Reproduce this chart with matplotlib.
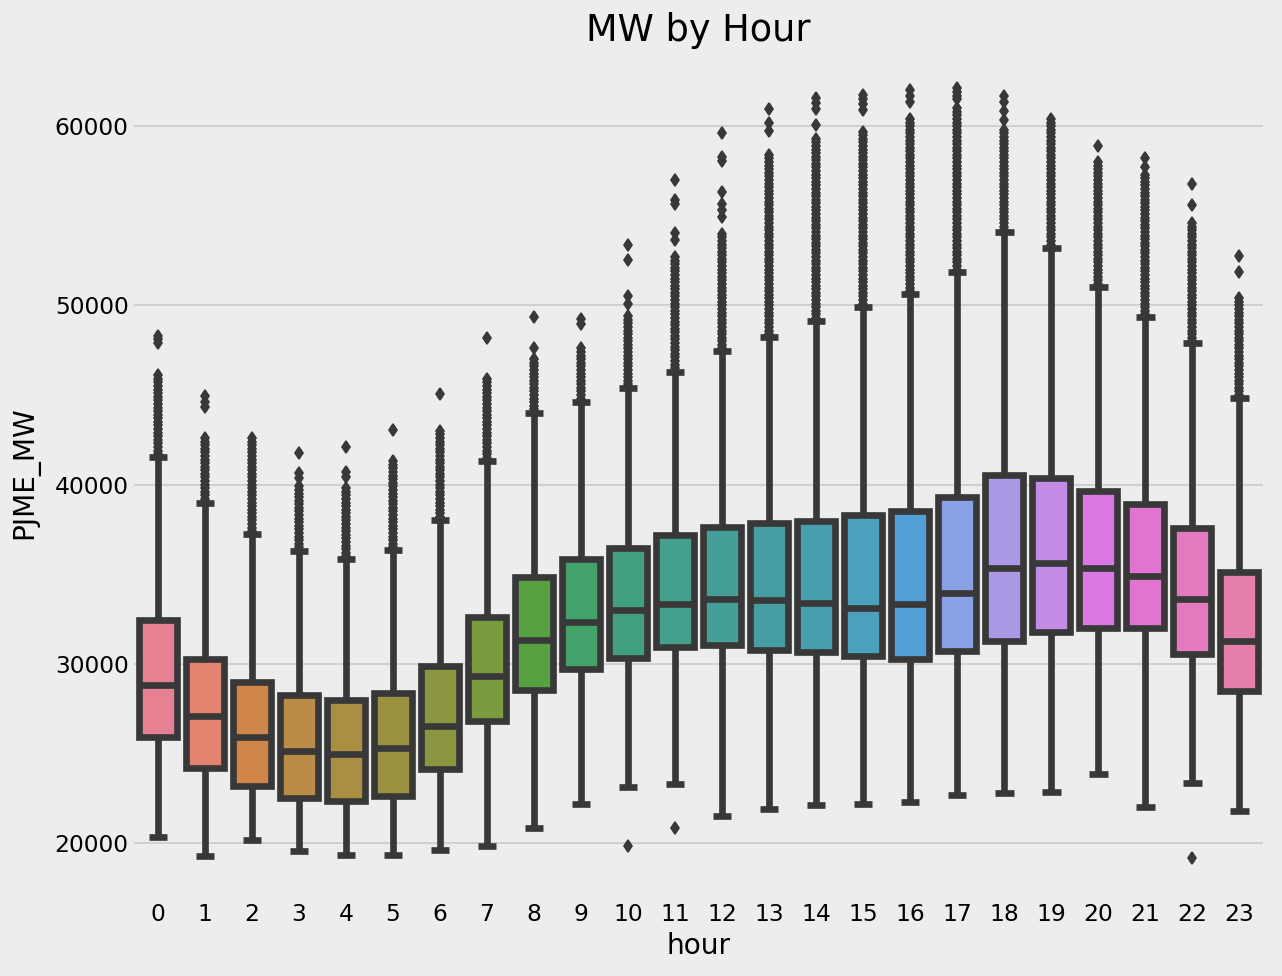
import seaborn as sns
from matplotlib import pyplot as plt

plt.style.use('fivethirtyeight')
bg = '#ededed'
plt.rcParams['figure.facecolor'] = bg
plt.rcParams['axes.facecolor'] = bg
plt.rcParams['axes.edgecolor'] = bg
plt.rcParams['savefig.facecolor'] = bg
plt.rcParams['savefig.edgecolor'] = bg

hours = list(range(24))

# box stats (MW)
q1 = [25930, 24170, 23180, 22520, 22360, 22620, 24110, 26790, 28560, 29700, 30350, 30920,
      31040, 30780, 30640, 30410, 30270, 30700, 31270, 31780, 31980, 31980, 30550, 28500]
med = [28820, 27070, 25890, 25150, 24940, 25310, 26510, 29330, 31350, 32350, 32980, 33350,
       33600, 33550, 33400, 33120, 33320, 33970, 35340, 35630, 35340, 34910, 33630, 31270]
q3 = [32440, 30270, 28990, 28240, 27960, 28370, 29900, 32630, 34830, 35830, 36480, 37170,
      37620, 37880, 37950, 38310, 38540, 39300, 40530, 40390, 39650, 38910, 37590, 35110]
whis_lo = [20310, 19260, 20150, 19530, 19320, 19320, 19610, 19860, 20860, 22200, 23140, 23280,
           21520, 21920, 22140, 22200, 22290, 22660, 22770, 22830, 23850, 22000, 23340, 21800]
whis_hi = [41530, 38990, 37250, 36300, 35850, 36340, 38020, 41330, 44010, 44610, 45400, 46290,
           47460, 48230, 49140, 49940, 50650, 51850, 54070, 53220, 51020, 49340, 47880, 44840]

# outliers, in thousands of MW
outliers_k = [
    [41.7, 41.9, 42.1, 42.3, 42.5, 42.7, 42.9, 43.1, 43.3, 43.5, 43.7, 43.9, 44.1, 44.3, 44.5, 44.7,
     44.9, 45.1, 45.3, 45.5, 45.7, 45.9, 46.1, 47.9, 48.1, 48.3],
    [39.2, 39.4, 39.6, 39.8, 40.0, 40.2, 40.4, 40.6, 40.8, 41.0, 41.2, 41.4, 41.6, 41.8, 42.0, 42.2,
     42.4, 42.6, 44.35, 44.6, 44.95],
    [37.4, 37.6, 37.8, 38.0, 38.2, 38.4, 38.6, 38.8, 39.0, 39.2, 39.4, 39.6, 39.8, 40.0, 40.2, 40.4,
     40.6, 40.8, 41.0, 41.2, 41.4, 41.6, 41.8, 42.0, 42.2, 42.4, 42.6],
    [36.5, 36.7, 36.9, 37.1, 37.3, 37.5, 37.7, 37.9, 38.1, 38.3, 38.5, 38.7, 38.9, 39.1, 39.3, 39.5,
     39.7, 39.9, 40.35, 40.65, 41.75],
    [36.0, 36.2, 36.4, 36.6, 36.8, 37.0, 37.2, 37.4, 37.6, 37.8, 38.0, 38.2, 38.4, 38.6, 38.8, 39.0,
     39.2, 39.4, 39.6, 39.8, 40.45, 40.7, 42.1],
    [36.5, 36.7, 36.9, 37.1, 37.3, 37.5, 37.7, 37.9, 38.1, 38.3, 38.5, 38.7, 38.9, 39.1, 39.3, 39.5,
     39.7, 39.9, 40.1, 40.3, 40.5, 40.7, 40.9, 41.1, 41.3, 43.05],
    [38.2, 38.4, 38.6, 38.8, 39.0, 39.2, 39.4, 39.6, 39.8, 40.0, 40.2, 40.4, 40.6, 40.8, 41.0, 41.2,
     41.4, 41.6, 41.8, 42.0, 42.2, 42.4, 42.6, 42.8, 43.0, 45.05],
    [41.5, 41.7, 41.9, 42.1, 42.3, 42.5, 42.7, 42.9, 43.1, 43.3, 43.5, 43.7, 43.9, 44.1, 44.3, 44.5,
     44.7, 44.9, 45.1, 45.3, 45.5, 45.7, 45.9, 48.2],
    [44.2, 44.4, 44.6, 44.8, 45.0, 45.2, 45.4, 45.6, 45.8, 46.0, 46.2, 46.4, 46.6, 46.8, 47.0, 47.65,
     49.35],
    [44.8, 45.0, 45.2, 45.4, 45.6, 45.8, 46.0, 46.2, 46.4, 46.6, 46.8, 47.0, 47.2, 47.4, 47.6, 48.95,
     49.25],
    [19.85, 45.6, 45.8, 46.0, 46.2, 46.4, 46.6, 46.8, 47.0, 47.2, 47.4, 47.6, 47.8, 48.0, 48.2, 48.4,
     48.6, 48.8, 49.0, 49.2, 49.4, 50.1, 50.5, 52.55, 53.4],
    [20.85, 46.5, 46.7, 46.9, 47.1, 47.3, 47.5, 47.7, 47.9, 48.1, 48.3, 48.5, 48.7, 48.9, 49.1, 49.3,
     49.5, 49.7, 49.9, 50.1, 50.3, 50.5, 50.7, 50.9, 51.1, 51.3, 51.5, 51.7, 51.9, 52.1, 52.3, 52.5,
     52.7, 53.65, 54.05, 55.65, 55.9, 57.0],
    [47.6, 47.8, 48.0, 48.2, 48.4, 48.6, 48.8, 49.0, 49.2, 49.4, 49.6, 49.8, 50.0, 50.2, 50.4, 50.6,
     50.8, 51.0, 51.2, 51.4, 51.6, 51.8, 52.0, 52.2, 52.4, 52.6, 52.8, 53.0, 53.2, 53.4, 53.6, 53.8,
     54.0, 54.95, 55.3, 55.65, 56.35, 58.05, 58.3, 59.6],
    [48.4, 48.6, 48.8, 49.0, 49.2, 49.4, 49.6, 49.8, 50.0, 50.2, 50.4, 50.6, 50.8, 51.0, 51.2, 51.4,
     51.6, 51.8, 52.0, 52.2, 52.4, 52.6, 52.8, 53.0, 53.2, 53.4, 53.6, 53.8, 54.0, 54.2, 54.4, 54.6,
     54.8, 55.0, 55.2, 55.4, 55.6, 55.8, 56.0, 56.2, 56.4, 56.6, 56.8, 57.0, 57.2, 57.4, 57.6, 57.8,
     58.0, 58.2, 58.4, 59.75, 60.2, 60.95],
    [49.3, 49.5, 49.7, 49.9, 50.1, 50.3, 50.5, 50.7, 50.9, 51.1, 51.3, 51.5, 51.7, 51.9, 52.1, 52.3,
     52.5, 52.7, 52.9, 53.1, 53.3, 53.5, 53.7, 53.9, 54.1, 54.3, 54.5, 54.7, 54.9, 55.1, 55.3, 55.5,
     55.7, 55.9, 56.1, 56.3, 56.5, 56.7, 56.9, 57.1, 57.3, 57.5, 57.7, 57.9, 58.1, 58.3, 58.5, 58.7,
     58.9, 59.1, 59.3, 60.05, 60.95, 61.3, 61.6],
    [50.1, 50.3, 50.5, 50.7, 50.9, 51.1, 51.3, 51.5, 51.7, 51.9, 52.1, 52.3, 52.5, 52.7, 52.9, 53.1,
     53.3, 53.5, 53.7, 53.9, 54.1, 54.3, 54.5, 54.7, 54.9, 55.1, 55.3, 55.5, 55.7, 55.9, 56.1, 56.3,
     56.5, 56.7, 56.9, 57.1, 57.3, 57.5, 57.7, 57.9, 58.1, 58.3, 58.5, 58.7, 58.9, 59.1, 59.3, 59.5,
     59.7, 60.9, 61.25, 61.5, 61.75],
    [50.8, 51.0, 51.2, 51.4, 51.6, 51.8, 52.0, 52.2, 52.4, 52.6, 52.8, 53.0, 53.2, 53.4, 53.6, 53.8,
     54.0, 54.2, 54.4, 54.6, 54.8, 55.0, 55.2, 55.4, 55.6, 55.8, 56.0, 56.2, 56.4, 56.6, 56.8, 57.0,
     57.2, 57.4, 57.6, 57.8, 58.0, 58.2, 58.4, 58.6, 58.8, 59.0, 59.2, 59.4, 59.6, 59.8, 60.0, 60.2,
     60.4, 61.35, 61.7, 62.05],
    [52.0, 52.2, 52.4, 52.6, 52.8, 53.0, 53.2, 53.4, 53.6, 53.8, 54.0, 54.2, 54.4, 54.6, 54.8, 55.0,
     55.2, 55.4, 55.6, 55.8, 56.0, 56.2, 56.4, 56.6, 56.8, 57.0, 57.2, 57.4, 57.6, 57.8, 58.0, 58.2,
     58.4, 58.6, 58.8, 59.0, 59.2, 59.4, 59.6, 59.8, 60.0, 60.2, 60.4, 60.6, 60.8, 61.0, 61.5, 61.7,
     61.9, 62.15],
    [54.2, 54.4, 54.6, 54.8, 55.0, 55.2, 55.4, 55.6, 55.8, 56.0, 56.2, 56.4, 56.6, 56.8, 57.0, 57.2,
     57.4, 57.6, 57.8, 58.0, 58.2, 58.4, 58.6, 58.8, 59.0, 59.2, 59.4, 59.6, 59.8, 60.35, 60.85,
     61.35, 61.7],
    [53.4, 53.6, 53.8, 54.0, 54.2, 54.4, 54.6, 54.8, 55.0, 55.2, 55.4, 55.6, 55.8, 56.0, 56.2, 56.4,
     56.6, 56.8, 57.0, 57.2, 57.4, 57.6, 57.8, 58.0, 58.2, 58.4, 58.6, 58.8, 59.0, 59.2, 59.4, 59.6,
     59.8, 60.0, 60.2, 60.4],
    [51.2, 51.4, 51.6, 51.8, 52.0, 52.2, 52.4, 52.6, 52.8, 53.0, 53.2, 53.4, 53.6, 53.8, 54.0, 54.2,
     54.4, 54.6, 54.8, 55.0, 55.2, 55.4, 55.6, 55.8, 56.0, 56.2, 56.4, 56.6, 56.8, 57.0, 57.2, 57.4,
     57.6, 57.8, 58.0, 58.9],
    [49.5, 49.7, 49.9, 50.1, 50.3, 50.5, 50.7, 50.9, 51.1, 51.3, 51.5, 51.7, 51.9, 52.1, 52.3, 52.5,
     52.7, 52.9, 53.1, 53.3, 53.5, 53.7, 53.9, 54.1, 54.3, 54.5, 54.7, 54.9, 55.1, 55.3, 55.5, 55.7,
     55.9, 56.1, 56.3, 56.5, 56.7, 56.9, 57.1, 57.3, 57.75, 58.25],
    [19.15, 48.0, 48.2, 48.4, 48.6, 48.8, 49.0, 49.2, 49.4, 49.6, 49.8, 50.0, 50.2, 50.4, 50.6, 50.8,
     51.0, 51.2, 51.4, 51.6, 51.8, 52.0, 52.2, 52.4, 52.6, 52.8, 53.0, 53.2, 53.4, 53.6, 53.8, 54.0,
     54.2, 54.4, 54.6, 55.6, 56.8],
    [45.0, 45.2, 45.4, 45.6, 45.8, 46.0, 46.2, 46.4, 46.6, 46.8, 47.0, 47.2, 47.4, 47.6, 47.8, 48.0,
     48.2, 48.4, 48.6, 48.8, 49.0, 49.2, 49.4, 49.6, 49.8, 50.0, 50.2, 50.4, 51.85, 52.75],
]

colors = [sns.desaturate(c, 0.75) for c in sns.color_palette('husl', len(hours))]
gray = '#383838'

stats = []
for i in hours:
    stats.append(dict(med=med[i], q1=q1[i], q3=q3[i], whislo=whis_lo[i], whishi=whis_hi[i],
                      fliers=[v * 1000 for v in outliers_k[i]], label=str(i)))

fig = plt.figure(figsize=(1282 / 120, 976 / 120), dpi=120)
ax = fig.add_axes([0.1049, 0.0812, 0.88, 0.8684])

bp = ax.bxp(stats, positions=hours, widths=0.8, patch_artist=True,
            boxprops=dict(edgecolor=gray, linewidth=4),
            medianprops=dict(color=gray, linewidth=4),
            whiskerprops=dict(color=gray, linewidth=4),
            capprops=dict(color=gray, linewidth=4),
            flierprops=dict(marker='d', markerfacecolor=gray, markeredgecolor=gray, markersize=5))
for patch, c in zip(bp['boxes'], colors):
    patch.set_facecolor(c)

ax.set_xlim(-0.5, len(hours) - 0.5)
ax.xaxis.grid(False)
for s in ax.spines.values():
    s.set_visible(False)
ax.set_xlabel('hour')
ax.set_ylabel('PJME_MW', labelpad=9)
ax.set_title('MW by Hour', fontsize=22, pad=3)

fig.savefig('out.png', dpi=120)
